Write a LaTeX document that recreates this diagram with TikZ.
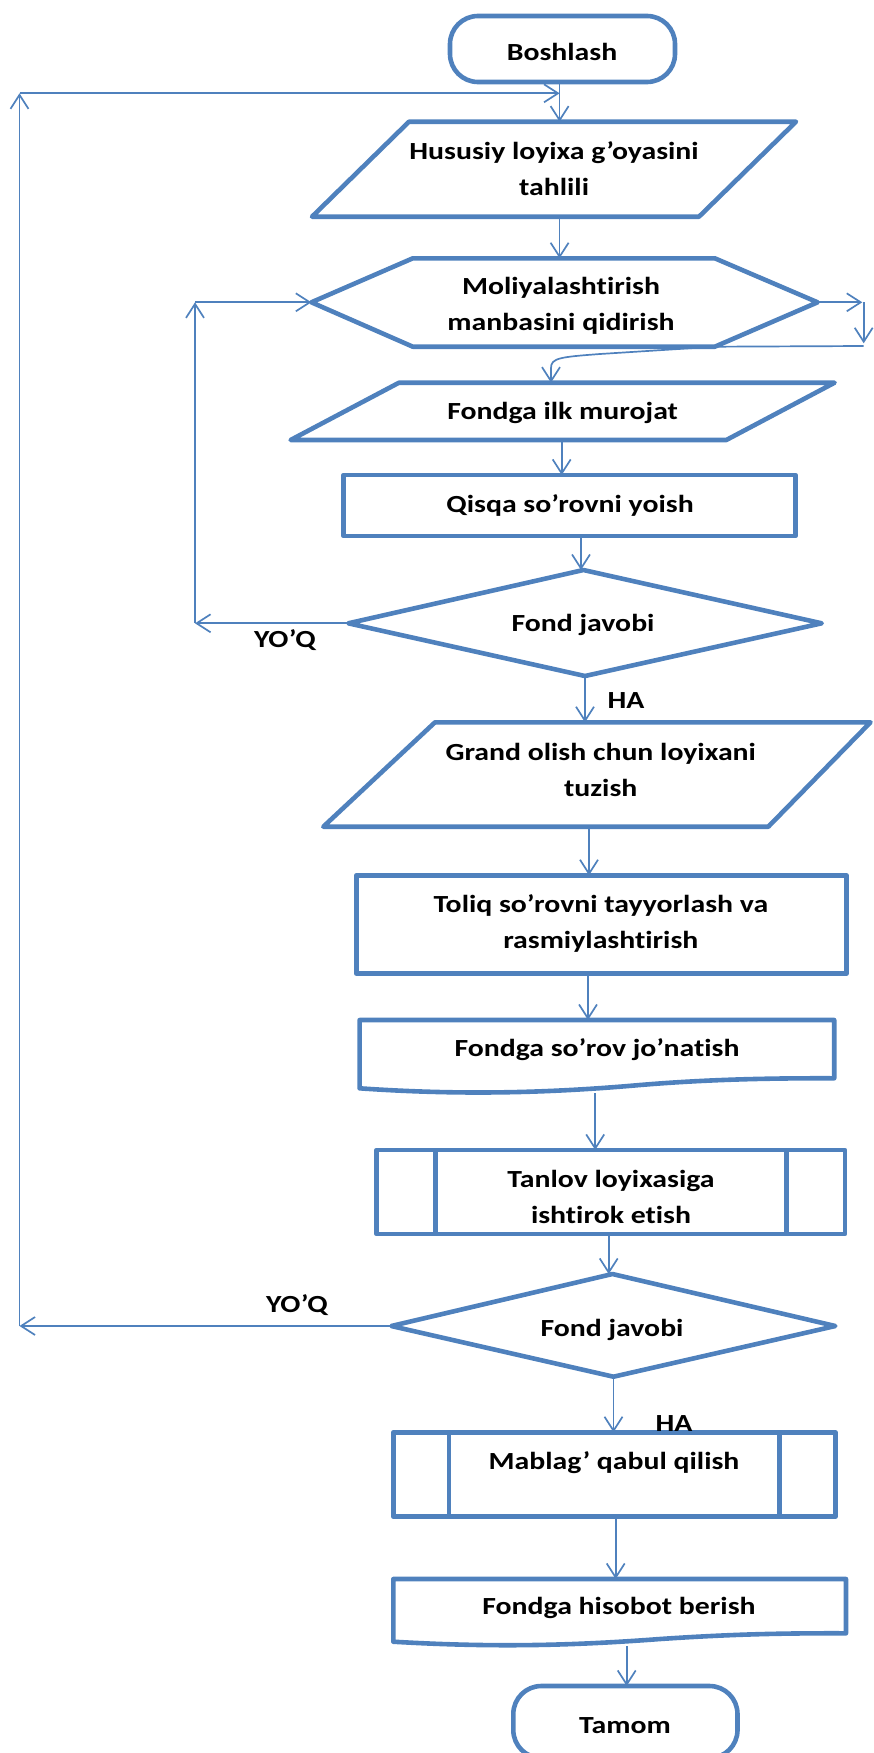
\documentclass[tikz,border=0pt]{standalone}
\usepackage{fontspec}
\setmainfont{Carlito}[FakeStretch=1.21, Ligatures={NoCommon}]
\usetikzlibrary{arrows.meta}
\definecolor{fblue}{HTML}{4F81BD}
\newcommand\nolig{\kern0pt }
\begin{document}
\begin{tikzpicture}[x=1pt,y=-1pt,
  fshape/.style={draw=fblue, line width=4.6pt, line join=round},
  conn/.style={draw=fblue, line width=1.7pt, -{Straight Barb[length=14pt,width=18pt]}},
  lbl/.style={font=\bfseries\fontsize{24.6}{36}\selectfont, align=center, inner sep=0pt, text=black}]
\useasboundingbox (0,0) rectangle (873,1753);

% ---------- shapes ----------
\draw[fshape, rounded corners=28pt] (450,16) rectangle (675,82);
\draw[fshape] (409,121.7) -- (796,121.7) -- (699,216.7) -- (312,216.7) -- cycle;
\draw[fshape] (412.8,258.3) -- (714.8,258.3) -- (817.6,302.3) -- (714.8,346.7) -- (412.8,346.7) -- (311.4,302.3) -- cycle;
\draw[fshape] (399,382.7) -- (834.6,382.7) -- (726.3,440) -- (290.6,440) -- cycle;
\draw[fshape] (343.6,475) rectangle (795.5,536);
\draw[fshape] (583.4,570) -- (821.7,623.3) -- (585,676) -- (348.3,623.3) -- cycle;
\draw[fshape] (435,722.3) -- (870.5,722.3) -- (768.3,826.7) -- (323.3,826.7) -- cycle;
\draw[fshape] (356.3,875.3) rectangle (846.3,973.6);
\draw[fshape] (359.6,1020) -- (834.2,1020) -- (834.2,1078.3)
   .. controls (760,1078) and (700,1080) .. (640,1085)
   .. controls (560,1092) and (470,1096) .. (359.6,1088.3) -- cycle;
\draw[fshape] (376.7,1150) rectangle (845.1,1234);
\draw[fshape] (435.2,1150) -- (435.2,1234);
\draw[fshape] (786.7,1150) -- (786.7,1234);
\draw[fshape] (612.4,1274) -- (835.3,1326) -- (613.5,1376.7) -- (391.3,1326) -- cycle;
\draw[fshape] (393.2,1432.3) rectangle (835.3,1516.7);
\draw[fshape] (449,1432.3) -- (449,1516.7);
\draw[fshape] (779.4,1432.3) -- (779.4,1516.7);
\draw[fshape] (393.3,1579) -- (846,1579) -- (846,1633.3)
   .. controls (770,1633) and (720,1635) .. (660,1639)
   .. controls (580,1645) and (500,1648) .. (393.3,1641.7) -- cycle;
\draw[fshape, rounded corners=28pt] (513.3,1686) rectangle (737.5,1758);

% ---------- named points ----------
\coordinate (bsB) at (559.6,82);
\coordinate (p1T) at (559.6,121.7);
\coordinate (p1B) at (559.6,216.7);
\coordinate (hxT) at (559.6,258.3);
\coordinate (hxL) at (311.4,302.3);
\coordinate (hxR) at (817.6,302.3);
\coordinate (hxR1) at (862.3,302.3);
\coordinate (hxR2) at (863.7,302.3);
\coordinate (hxR3) at (863.7,343.3);
\coordinate (hxR4) at (863.7,346);
\coordinate (hxBr) at (714.8,346.7);
\coordinate (p2T) at (551,382.7);
\coordinate (p2B) at (561.7,440);
\coordinate (r1T) at (561.7,475);
\coordinate (r1B) at (581,536);
\coordinate (d1T) at (581,570);
\coordinate (d1L) at (348.3,623.3);
\coordinate (d1B) at (585,676);
\coordinate (lpA) at (195,623.3);
\coordinate (lpB) at (195,302.3);
\coordinate (p3T) at (585,722.3);
\coordinate (p3B) at (589,826.7);
\coordinate (r2T) at (589,875.3);
\coordinate (r2B) at (588,973.6);
\coordinate (dc1T) at (588,1020);
\coordinate (dc1B) at (595.2,1093);
\coordinate (pp1T) at (595.2,1150);
\coordinate (pp1B) at (608.7,1234);
\coordinate (d2T) at (608.7,1274);
\coordinate (d2L) at (391.3,1326);
\coordinate (d2B) at (613.5,1376.7);
\coordinate (ppT) at (613.5,1432.3);
\coordinate (ppB) at (615.7,1516.7);
\coordinate (dc2T) at (615.7,1579);
\coordinate (dc2B) at (626.7,1646);
\coordinate (tmT) at (626.7,1686);
\coordinate (bigA) at (19.5,1326);
\coordinate (bigB) at (19.5,93.3);
\coordinate (bigC) at (559.6,93.3);

% ---------- connectors ----------
\draw[conn] (bsB) -- (p1T);
\draw[conn] (d2L) -- (bigA);
\draw[conn] (bigA) -- (bigB);
\draw[conn] (bigB) -- (bigC);
\draw[conn] (p1B) -- (hxT);
\draw[conn] (hxR) -- (hxR1);
\draw[conn] (hxR2) -- (hxR3);
\draw[conn] (hxR4) -- (hxBr) -- (600,354) .. controls (560,357) and (551,358) .. (551,368) -- (p2T);
\draw[conn] (p2B) -- (r1T);
\draw[conn] (r1B) -- (d1T);
\draw[conn] (d1L) -- (lpA);
\draw[conn] (lpA) -- (lpB);
\draw[conn] (lpB) -- (hxL);
\draw[conn] (d1B) -- (p3T);
\draw[conn] (p3B) -- (r2T);
\draw[conn] (r2B) -- (dc1T);
\draw[conn] (dc1B) -- (pp1T);
\draw[conn] (pp1B) -- (d2T);
\draw[conn] (d2B) -- (ppT);
\draw[conn] (ppB) -- (dc2T);
\draw[conn] (dc2B) -- (tmT);

% ---------- texts ----------
\node[lbl] (boshlash) at (562,52) {Boshlash};
\node[lbl] (t1) at (554,169) {Hususiy loyixa g’oyasini\\tahlili};
\node[lbl] (t2) at (561,306) {Moliyalasht\nolig irish\\manbasini qidirish};
\node[lbl] (t3) at (562.6,413) {Fondga ilk murojat};
\node[lbl] (t4) at (570,505) {Qisqa so’rovni yoish};
\node[lbl] (d1) at (583,625) {Fond javobi};
\node[lbl] (yoq1) at (285,640) {YO’Q};
\node[lbl] (ha1) at (626,701) {HA};
\node[lbl] (t5) at (600.7,770) {Grand olish chun loyixani\\tuzish};
\node[lbl] (t6) at (600.8,923) {Toliq so’rovni tayyorlash va\\rasmiylasht\nolig irish};
\node[lbl] (t7) at (597,1050) {Fondga so’rov jo’nat\nolig ish};
\node[lbl] (t8) at (611,1197) {Tanlov loyixasiga\\isht\nolig irok et\nolig ish};
\node[lbl] (d2) at (612,1330) {Fond javobi};
\node[lbl] (yoq2) at (297,1305) {YO’Q};
\node[lbl] (ha2) at (674,1424) {HA};
\node[lbl] (t9) at (614,1463) {Mablag’ qabul qilish};
\node[lbl] (t10) at (619,1608) {Fondga hisobot berish};
\node[lbl] (tamom) at (625,1726) {Tamom};
\end{tikzpicture}
\end{document}
